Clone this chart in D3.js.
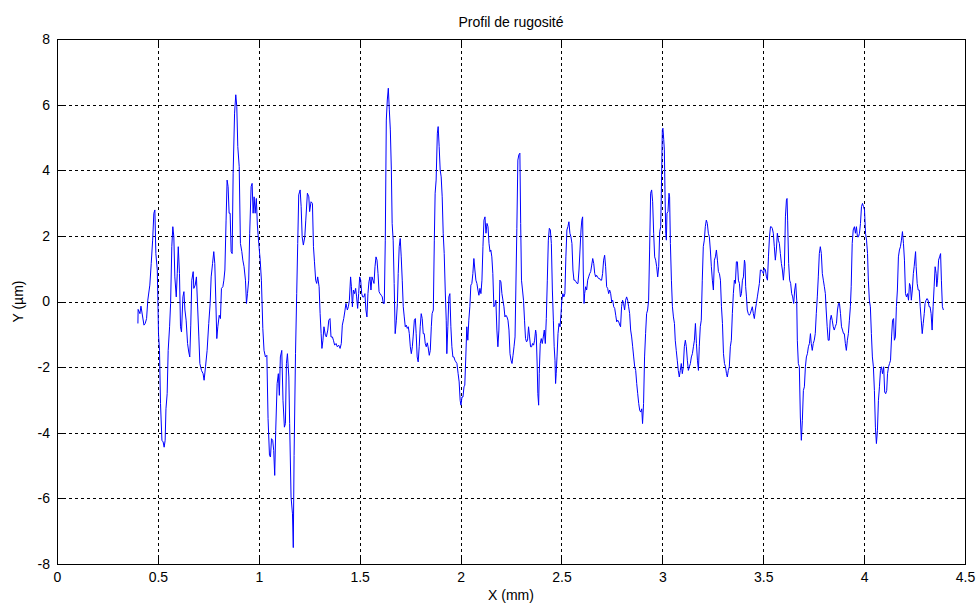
<!DOCTYPE html>
<html>
<head>
<meta charset="utf-8">
<script src="https://cdn.jsdelivr.net/npm/d3@7/dist/d3.min.js"></script>
<style>
  body { margin: 0; background: #fff; }
  svg { display: block; }
  text { font-family: "Liberation Sans", Arial, Helvetica, sans-serif; fill: #000; }
</style>
</head>
<body>
<svg id="chart" width="978" height="606"></svg>
<script>
// Roughness profile: position along the trace (mm) and height (µm)
const xMm = [
0.401,0.402,0.411,0.416,0.431,0.437,0.444,0.450,0.460,0.467,0.474,0.480,0.485,0.490,0.497,0.500,0.503,0.508,0.513,0.520,
0.526,0.531,0.536,0.540,0.546,0.551,0.558,0.563,0.569,0.574,0.579,0.584,0.591,0.596,0.601,0.607,0.612,0.617,0.624,0.629,
0.634,0.640,0.647,0.653,0.658,0.663,0.668,0.675,0.678,0.685,0.691,0.696,0.703,0.708,0.716,0.724,0.729,0.736,0.744,0.752,
0.759,0.764,0.771,0.777,0.782,0.787,0.792,0.797,0.804,0.810,0.815,0.822,0.827,0.832,0.838,0.843,0.848,0.853,0.858,0.863,
0.868,0.873,0.880,0.886,0.891,0.896,0.903,0.909,0.916,0.921,0.927,0.934,0.939,0.944,0.950,0.955,0.962,0.967,0.972,0.977,
0.982,0.988,0.993,1.000,1.007,1.013,1.020,1.026,1.033,1.040,1.046,1.053,1.058,1.063,1.069,1.074,1.079,1.084,1.091,1.097,
1.102,1.107,1.114,1.120,1.127,1.132,1.137,1.142,1.149,1.153,1.160,1.167,1.171,
1.175,1.182,1.188,1.193,1.198,1.205,1.210,1.215,1.221,1.228,1.233,1.241,1.248,1.252,1.259,1.266,1.271,1.276,1.282,1.287,
1.292,1.299,1.304,1.309,1.313,1.318,1.323,1.330,1.335,1.342,1.347,1.353,1.358,1.365,1.370,1.376,1.383,1.389,1.396,1.403,
1.409,1.414,1.421,1.426,1.432,1.439,1.444,1.449,1.455,1.459,1.464,1.469,1.475,1.480,1.485,1.490,1.495,1.500,1.505,1.510,
1.515,1.521,1.526,1.531,1.536,1.541,1.546,1.551,1.556,1.561,1.566,1.571,1.576,1.581,1.586,1.591,1.596,1.601,1.607,1.612,
1.617,1.622,1.627,1.632,1.637,1.642,1.647,1.652,1.657,1.661,1.666,1.671,1.676,1.682,1.687,1.691,1.696,1.701,1.706,1.711,
1.716,1.721,1.726,1.731,1.736,1.741,1.746,1.751,1.756,1.761,1.765,1.771,1.776,1.780,1.785,1.790,1.795,1.800,1.805,1.810,
1.815,1.820,1.825,1.830,1.835,1.839,1.845,1.850,1.855,1.859,1.865,1.870,1.874,1.879,1.885,1.889,1.894,1.899,1.904,1.909,
1.914,1.919,1.924,1.929,1.932,1.937,1.942,1.947,1.952,1.957,1.962,1.967,1.972,1.977,1.982,
1.988,1.993,1.998,2.002,2.007,2.012,2.017,2.021,2.026,2.031,2.036,2.041,2.046,2.051,2.056,2.061,2.066,2.071,2.076,2.081,
2.086,2.091,2.096,2.101,2.106,2.111,2.116,2.121,2.126,2.131,2.136,2.141,2.146,2.150,2.155,2.160,2.165,2.170,2.175,2.180,
2.185,2.190,2.195,2.200,2.205,2.210,2.215,2.220,2.225,2.230,2.235,2.240,2.245,2.250,2.255,2.260,2.265,2.270,2.274,2.279,
2.284,2.289,2.294,2.298,2.302,2.307,2.312,2.317,2.322,2.327,2.332,2.337,2.342,2.347,2.352,2.357,2.362,2.367,2.372,2.375,
2.380,2.383,2.387,2.390,2.395,2.400,2.405,2.410,2.415,2.420,2.425,2.430,2.435,2.440,2.445,2.450,2.455,2.460,2.464,2.468,
2.471,2.474,2.478,2.483,2.488,2.493,2.498,2.502,2.507,2.512,2.517,2.522,2.527,2.532,2.537,2.542,2.547,2.552,2.557,2.562,
2.567,2.572,2.577,2.582,2.587,2.592,2.597,2.601,2.605,2.608,2.612,2.615,2.620,2.625,2.630,2.635,2.640,2.645,2.650,2.655,
2.660,2.665,2.670,2.674,2.679,2.684,2.689,2.694,2.699,2.704,2.709,2.714,2.719,2.724,2.729,2.734,2.739,2.744,2.749,2.754,
2.759,2.764,2.769,2.774,2.779,2.784,2.789,
2.793,2.798,2.803,2.808,2.813,2.818,2.823,2.828,2.833,2.838,2.843,2.848,2.853,2.858,2.863,2.868,2.873,2.878,2.883,2.888,
2.893,2.898,2.902,2.907,2.912,2.917,2.922,2.927,2.932,2.937,2.942,2.947,2.952,2.957,2.962,2.967,2.972,2.977,2.982,2.987,
2.992,2.995,3.000,3.003,3.007,3.010,3.013,3.017,3.020,3.023,3.028,3.033,3.036,3.040,3.045,3.050,3.055,3.060,3.064,3.069,
3.074,3.079,3.084,3.089,3.094,3.099,3.104,3.109,3.114,3.119,3.124,3.129,3.134,3.139,3.144,3.149,3.154,3.159,3.164,3.169,
3.174,3.179,3.183,3.188,3.193,3.198,3.203,3.208,3.213,3.218,3.223,3.228,3.233,3.238,3.243,3.248,3.253,3.258,3.263,3.268,
3.273,3.278,3.283,3.288,3.293,3.298,3.303,3.308,3.313,3.318,3.322,3.327,3.332,3.337,3.342,3.347,3.352,3.357,3.362,3.367,
3.372,3.377,3.382,3.387,3.392,3.397,3.402,3.407,3.410,3.413,3.417,3.421,3.426,3.431,3.436,3.441,3.446,3.451,3.456,3.461,
3.466,3.471,3.476,3.481,3.486,3.491,3.496,3.501,3.506,3.511,3.516,3.521,3.526,3.531,
3.536,3.540,3.545,3.550,3.555,3.560,3.565,3.570,3.575,3.580,3.585,3.590,3.595,3.600,3.605,3.610,3.615,3.618,3.621,3.626,
3.631,3.636,3.641,3.646,3.651,3.656,3.661,3.666,3.669,3.674,3.679,3.684,3.689,3.694,3.699,3.704,3.709,3.714,3.719,3.724,
3.729,3.734,3.738,3.743,3.748,3.753,3.758,3.763,3.768,3.773,3.778,3.783,3.788,3.793,3.798,3.803,3.808,3.812,3.817,3.822,
3.827,3.832,3.837,3.842,3.847,3.852,3.857,3.863,3.868,3.873,3.878,3.883,3.888,3.893,3.898,3.902,3.907,3.912,3.917,3.922,
3.927,3.932,3.936,3.941,3.946,3.952,3.957,3.962,3.967,3.972,3.977,3.982,3.987,3.992,3.997,4.002,4.007,4.012,4.017,4.021,
4.026,4.031,4.036,4.041,4.046,4.051,4.056,4.061,4.066,4.071,4.076,4.081,4.086,4.091,4.097,4.102,4.107,4.112,4.116,4.121,
4.126,4.131,4.136,4.141,4.146,4.150,4.155,4.160,4.165,4.170,4.175,4.180,4.185,4.190,4.195,4.200,4.205,4.210,4.215,4.220,
4.225,4.230,4.234,4.239,4.244,4.248,4.255,4.258,4.263,4.268,4.273,4.278,4.283,4.288,4.293,4.298,4.302,4.307,4.312,4.317,
4.322,4.327,4.332,4.337,4.342,4.347,4.352,4.357,4.360,4.364,4.369,4.374,4.379,4.383,4.388,4.393
];
const yUm = [
-0.67,-0.24,-0.37,-0.14,-0.72,-0.67,-0.52,0.04,0.50,1.16,1.87,2.69,2.79,1.46,0.96,0.04,-0.98,-1.49,-3.11,-4.23,
-4.28,-4.44,-4.23,-3.27,-2.81,-1.49,-0.77,-0.06,1.67,2.28,1.97,0.75,0.14,0.85,1.67,0.85,-0.77,-0.93,0.14,0.30,
-0.26,-0.57,-1.28,-1.54,-1.69,-0.72,0.65,0.91,0.40,0.50,0.75,-0.01,-1.08,-1.89,-2.10,-2.20,-2.40,-1.99,-1.49,-0.67,
-0.06,0.75,1.16,1.52,1.16,0.04,-1.13,-0.77,-0.42,-0.52,0.40,0.45,0.65,0.96,2.48,3.70,3.50,2.69,2.69,1.52,
1.46,3.91,5.74,6.30,5.94,4.72,4.11,1.77,1.52,1.26,1.06,0.65,-0.06,0.24,0.65,2.08,3.50,3.60,2.69,3.19,
2.69,3.14,2.33,1.77,1.26,0.65,-0.82,-1.49,-1.69,-1.64,-3.57,-4.69,-4.74,-4.18,-4.23,-4.54,-5.30,-3.93,-2.50,-2.20,
-2.86,-1.69,-1.49,-3.01,-3.83,-3.72,-1.89,-1.59,-2.30,-3.72,-5.96,-6.47,-7.50,
-4.69,-1.59,0.24,1.77,3.25,3.40,2.89,1.97,1.72,1.97,2.48,3.30,3.19,2.74,3.04,2.99,1.67,1.21,0.65,0.55,
0.75,0.45,-0.37,-0.98,-1.43,-1.18,-0.77,-1.03,-1.08,-0.87,-0.57,-0.52,-1.08,-1.08,-1.18,-1.33,-1.28,-1.38,-1.33,-1.43,
-1.28,-0.72,-0.52,-0.32,-0.06,-0.26,-0.16,0.04,0.75,0.45,-0.16,0.35,0.24,0.40,0.14,-0.21,0.24,0.75,0.65,0.24,
0.14,0.14,0.24,-0.26,-0.47,0.24,0.60,0.75,0.35,0.75,0.65,0.55,1.06,1.36,1.26,0.85,0.30,0.24,0.19,0.14,
-0.06,-0.06,1.87,5.53,6.14,6.50,5.84,5.23,4.01,2.38,1.87,0.55,-0.98,-0.57,-0.06,0.85,1.67,1.92,1.36,0.65,
-0.16,-0.47,-0.77,-0.72,-0.82,-0.77,-0.98,-1.38,-1.59,-1.38,-1.08,-0.57,-0.52,-0.98,-1.69,-1.84,-1.38,-0.77,-0.37,-0.52,
-0.98,-0.98,-1.28,-1.38,-1.26,-1.38,-1.64,-1.49,-0.77,-0.37,-0.26,1.87,3.30,3.70,5.13,5.33,4.72,4.01,3.80,3.19,
2.08,1.46,0.35,-0.57,-1.59,-0.77,0.14,0.24,-0.77,-1.38,-1.69,-1.69,-1.79,-1.84,-1.89,
-2.20,-2.45,-3.01,-3.16,-2.91,-2.91,-2.60,-2.55,-1.69,-0.77,-1.18,-0.57,-0.16,0.50,0.55,0.85,1.31,0.96,0.65,0.55,
0.35,0.19,0.40,0.24,0.65,1.67,2.48,2.58,2.08,2.38,2.28,1.77,1.52,1.57,1.36,0.85,-0.16,-0.11,0.04,-0.87,
-1.38,-0.87,0.65,0.60,0.24,0.04,-0.16,-0.47,-0.42,-0.47,-0.57,-0.87,-1.59,-1.79,-1.89,-1.64,-1.38,-1.08,0.35,2.23,
4.31,4.47,4.52,2.38,0.65,0.35,0.04,-0.57,-1.13,-1.23,-1.18,-0.77,-1.08,-1.38,-1.38,-1.28,-1.33,-1.18,-0.87,-0.98,
-1.99,-2.81,-3.16,-2.20,-1.28,-1.13,-1.28,-1.08,-0.87,-1.28,-0.52,0.65,1.87,2.23,2.18,1.77,0.35,-0.57,-1.38,-1.79,
-2.50,-2.20,-1.69,-0.98,-0.67,-0.77,-0.37,0.04,0.24,0.14,0.24,1.36,2.18,2.28,2.43,2.08,1.97,1.77,0.96,0.65,
0.65,0.60,0.55,0.55,0.96,1.57,2.18,2.48,2.58,0.96,-0.06,0.24,0.45,0.35,0.65,0.75,0.85,0.91,1.11,1.31,
1.16,0.85,0.75,0.80,0.75,0.70,0.70,0.65,0.65,0.85,1.26,1.41,1.06,0.45,0.40,0.24,0.35,0.24,-0.01,0.04,
-0.16,-0.21,-0.42,-0.62,-0.57,-0.62,-0.72,
-0.77,-0.16,0.04,-0.06,-0.26,0.04,0.14,0.04,-0.16,-0.37,-0.87,-1.08,-1.38,-1.69,-1.99,-2.10,-2.50,-2.81,-3.11,-3.32,
-3.37,-3.27,-3.72,-3.11,-1.69,-0.98,-0.37,-0.26,0.04,1.57,3.30,3.40,3.04,2.08,1.36,1.26,1.06,0.75,1.06,2.13,
2.28,3.30,5.23,5.28,4.93,4.62,3.40,2.08,1.87,2.69,2.74,3.30,3.19,1.77,0.65,-0.16,-0.47,-0.67,-1.18,-1.49,
-1.79,-2.10,-2.30,-2.10,-1.89,-2.20,-1.99,-1.38,-1.18,-1.38,-1.79,-2.10,-1.99,-1.89,-1.69,-1.59,-1.38,-1.18,-0.67,-1.28,
-1.79,-2.10,-1.38,-0.77,-0.57,0.65,1.67,1.87,2.28,2.48,2.38,2.08,1.97,1.57,1.06,0.65,0.35,1.26,1.36,1.57,
1.26,0.91,0.85,0.65,-0.16,-0.67,-1.59,-1.89,-1.99,-2.20,-2.30,-2.10,-1.99,-1.38,-1.18,-0.37,0.24,0.65,0.55,1.21,
1.21,0.65,0.55,0.14,0.24,0.65,0.75,1.26,1.16,0.45,0.14,-0.26,-0.37,-0.42,-0.37,-0.26,-0.16,-0.37,-0.52,-0.26,
-0.06,0.14,0.35,0.55,0.96,0.96,0.91,0.85,1.01,0.96,0.75,0.65,1.36,1.97,
2.28,2.28,2.23,2.08,1.67,1.26,1.57,2.08,1.87,1.77,1.46,1.16,0.96,0.65,1.06,2.58,3.09,3.14,2.48,1.16,
0.65,0.55,0.24,0.14,-0.06,0.35,0.55,0.04,-1.18,-1.89,-1.99,-3.52,-4.23,-3.62,-2.71,-2.60,-1.99,-1.69,-1.59,-1.38,
-1.28,-0.98,-1.28,-1.49,-1.28,-1.18,-0.98,-0.37,0.14,0.75,1.46,1.67,1.46,0.85,0.65,0.45,0.24,-0.26,-0.77,-1.18,
-1.18,-0.57,-0.42,-0.57,-0.77,-0.87,-0.77,-0.67,-0.26,-0.06,-0.06,-0.37,-0.77,-0.87,-0.98,-0.98,-1.28,-1.49,-1.18,-0.98,
-0.57,-0.16,0.45,1.77,2.18,2.28,2.08,2.28,1.97,1.97,2.08,2.38,2.89,2.99,2.89,2.79,2.08,1.87,1.46,0.65,
0.04,-0.16,-0.98,-1.69,-1.99,-2.71,-3.83,-4.33,-3.93,-3.01,-2.60,-2.10,-1.99,-2.20,-1.99,-2.76,-2.81,-2.71,-2.20,-1.99,
-1.89,-1.79,-1.08,-0.57,-0.52,-1.18,-1.08,-0.16,0.35,1.36,1.57,1.67,1.87,2.13,1.77,1.26,0.24,0.14,0.24,0.04,
0.55,0.45,0.04,0.35,0.85,1.06,1.52,1.06,0.55,0.35,0.35,-0.16,-0.57,-0.98,-0.67,-0.37,-0.06,0.04,0.09,0.04,
-0.16,-0.16,-0.37,-0.87,-0.16,0.45,1.06,0.85,0.45,0.65,1.26,1.36,1.46,0.65,-0.16,-0.26
];

const xTicks = [0, 0.5, 1, 1.5, 2, 2.5, 3, 3.5, 4, 4.5];
const yTicks = [-8, -6, -4, -2, 0, 2, 4, 6, 8];
const xDomain = [0, 4.5];
const yDomain = [-8, 8];
const titleText = "Profil de rugosité";
const xLabelText = "X (mm)";
const yLabelText = "Y (µm)";

const svg = d3.select("#chart");
const plotL = 57, plotR = 965, plotT = 39, plotB = 564;
const x = d3.scaleLinear().domain(xDomain).range([plotL, plotR]);
const y = d3.scaleLinear().domain(yDomain).range([plotB, plotT]);
const fmt = d => String(d);
const fontSize = "14px";
const nPts = Math.min(xMm.length, yUm.length);

// grid (dotted, interior ticks only)
const grid = svg.append("g").attr("stroke", "#000").attr("stroke-width", 1)
  .attr("stroke-dasharray", "3,3").attr("shape-rendering", "crispEdges");
grid.selectAll("line.gx").data(xTicks.filter(t => t > xDomain[0] && t < xDomain[1]))
  .join("line").attr("class", "gx")
  .attr("x1", d => Math.round(x(d)) + 0.5).attr("x2", d => Math.round(x(d)) + 0.5)
  .attr("y1", plotT).attr("y2", plotB);
grid.selectAll("line.gy").data(yTicks.filter(t => t > yDomain[0] && t < yDomain[1]))
  .join("line").attr("class", "gy")
  .attr("y1", d => Math.round(y(d)) + 0.5).attr("y2", d => Math.round(y(d)) + 0.5)
  .attr("x1", plotL).attr("x2", plotR);

// profile trace
const line = d3.line().x((d, i) => x(xMm[i])).y(d => y(d));
svg.append("path").datum(yUm.slice(0, nPts))
  .attr("fill", "none").attr("stroke", "#0000ff").attr("stroke-width", 1)
  .attr("stroke-linejoin", "miter").attr("d", line);

// axes: ticks point inward on all four sides
function styleAxis(g) {
  g.selectAll("path.domain").remove();
  g.selectAll("line").attr("stroke", "#000").attr("shape-rendering", "crispEdges");
  g.selectAll("text").attr("font-size", fontSize).attr("font-family", null).attr("fill", "#000");
}
svg.append("g").attr("transform", `translate(0,${plotB})`)
  .call(d3.axisBottom(x).tickValues(xTicks).tickFormat(fmt).tickSize(-6).tickPadding(8))
  .call(styleAxis);
svg.append("g").attr("transform", `translate(0,${plotT})`)
  .call(d3.axisTop(x).tickValues(xTicks).tickFormat(() => "").tickSize(-6))
  .call(styleAxis);
svg.append("g").attr("transform", `translate(${plotL},0)`)
  .call(d3.axisLeft(y).tickValues(yTicks).tickFormat(fmt).tickSize(-6).tickPadding(7))
  .call(styleAxis);
svg.append("g").attr("transform", `translate(${plotR},0)`)
  .call(d3.axisRight(y).tickValues(yTicks).tickFormat(() => "").tickSize(-6))
  .call(styleAxis);

// frame
svg.append("rect").attr("x", plotL).attr("y", plotT)
  .attr("width", plotR - plotL).attr("height", plotB - plotT)
  .attr("fill", "none").attr("stroke", "#000").attr("shape-rendering", "crispEdges");

// title and axis labels
svg.append("text").attr("x", (plotL + plotR) / 2).attr("y", 27)
  .attr("text-anchor", "middle").attr("font-size", fontSize).text(titleText);
svg.append("text").attr("x", (plotL + plotR) / 2).attr("y", 600)
  .attr("text-anchor", "middle").attr("font-size", fontSize).text(xLabelText);
svg.append("text").attr("transform", `translate(23,${(plotT + plotB) / 2}) rotate(-90)`)
  .attr("text-anchor", "middle").attr("font-size", fontSize).text(yLabelText);
</script>
</body>
</html>
